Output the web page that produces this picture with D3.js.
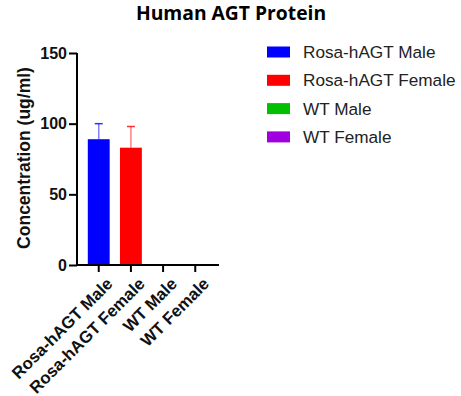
<!DOCTYPE html>
<html><head><meta charset="utf-8">
<script src="https://cdn.jsdelivr.net/npm/d3@7/dist/d3.min.js"></script>
<style>body{margin:0;background:#fff}svg{display:block}</style>
</head><body>
<svg id="c" width="461" height="396"></svg>
<script>
const categories = ["Rosa-hAGT Male", "Rosa-hAGT Female", "WT Male", "WT Female"];
const means = [89, 83, 0, 0];
const errors = [11, 15, 0, 0];
const colors = ["#0000ff", "#ff0000", "#00c000", "#a000e0"];
const yTicks = [0, 50, 100, 150];

(function () {
const svg = d3.select("#c");
const pL = 77, pR = 219, pT = 53, pB = 265;
const x = d3.scaleBand().domain(categories).range([pL + 5, pR - 7]).paddingInner(0.32).paddingOuter(0.18);
const y = d3.scaleLinear().domain([0, 150]).range([pB, pT]);

svg.append("text").attr("x", 231).attr("y", 20).attr("text-anchor", "middle")
  .attr("font-family", "Open Sans, Lato, sans-serif").attr("font-weight", "bold")
  .attr("font-size", 19.3).text("Human AGT Protein");

svg.selectAll("rect.bar").data(categories).enter().append("rect").attr("class", "bar")
  .attr("x", d => x(d)).attr("width", x.bandwidth())
  .attr("y", (d, i) => y(means[i])).attr("height", (d, i) => pB - y(means[i]))
  .attr("fill", (d, i) => colors[i]);

const eg = svg.append("g");
categories.forEach((c, i) => {
  if (errors[i] <= 0) return;
  const cx = x(c) + x.bandwidth() / 2;
  eg.append("line").attr("x1", cx).attr("x2", cx).attr("y1", y(means[i])).attr("y2", y(means[i] + errors[i]))
    .attr("stroke", colors[i]).attr("stroke-opacity", 0.5).attr("stroke-width", 1.5);
  eg.append("line").attr("x1", cx - 4).attr("x2", cx + 4).attr("y1", y(means[i] + errors[i])).attr("y2", y(means[i] + errors[i]))
    .attr("stroke", colors[i]).attr("stroke-opacity", 0.8).attr("stroke-width", 1.5);
});

const ya = svg.append("g").attr("transform", `translate(${pL},0)`)
  .call(d3.axisLeft(y).tickValues(yTicks).tickSize(8).tickPadding(2));
ya.select(".domain").attr("stroke-width", 2).attr("d", `M0,${pB + 1}V${pT}`);
ya.selectAll(".tick line").attr("stroke-width", 2);
ya.selectAll(".tick text").attr("font-family", "Liberation Sans, Arial, sans-serif")
  .attr("font-weight", "bold").attr("font-size", 16).attr("fill", "#111");

const xa = svg.append("g").attr("transform", `translate(0,${pB})`)
  .call(d3.axisBottom(x).tickSize(7).tickPadding(4));
xa.select(".domain").attr("stroke-width", 2).attr("d", `M${pL - 1},0H${pR}`);
xa.selectAll(".tick line").attr("stroke-width", 2);
xa.selectAll(".tick text").attr("font-family", "Liberation Sans, Arial, sans-serif")
  .attr("font-weight", "bold").attr("font-size", 16.8).attr("fill", "#111")
  .attr("text-anchor", "end").attr("dy", "0.35em")
  .attr("transform", "translate(3,8) rotate(-45)");

svg.append("text").attr("transform", "translate(30,158) rotate(-90)").attr("text-anchor", "middle")
  .attr("font-family", "Liberation Sans, Arial, sans-serif").attr("font-weight", "bold")
  .attr("font-size", 17.5).attr("fill", "#111").text("Concentration (ug/ml)");

const lg = svg.append("g");
categories.forEach((c, i) => {
  const cy = 52 + i * 28.3;
  lg.append("rect").attr("x", 267).attr("y", cy - 5.5).attr("width", 23).attr("height", 11).attr("fill", colors[i]);
  lg.append("text").attr("x", 303).attr("y", cy).attr("dy", "0.35em")
    .attr("font-family", "Liberation Sans, Arial, sans-serif").attr("font-size", 17.2).attr("fill", "#222").text(c);
});
})();
</script>
</body></html>
